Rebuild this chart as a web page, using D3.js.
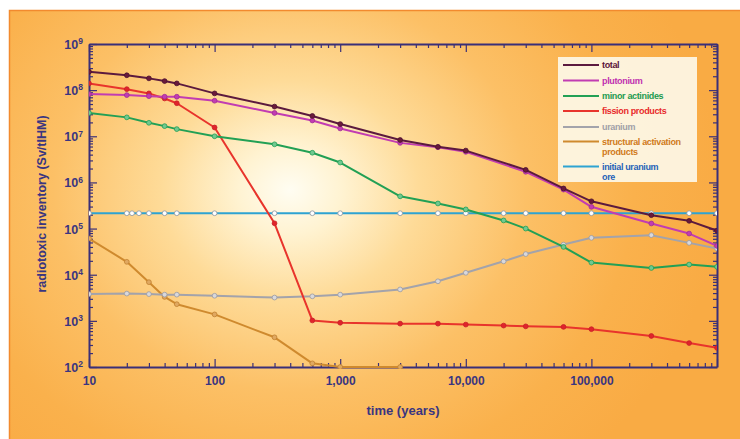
<!DOCTYPE html>
<html>
<head>
<meta charset="utf-8">
<script src="https://cdn.jsdelivr.net/npm/d3@7"></script>
<style>
  body { margin: 0; background: #fff; }
  svg { display: block; }
  .tick text { font-family: 'Liberation Sans', Arial, sans-serif; font-weight: bold; fill: #3a3580; }
</style>
</head>
<body>
<svg id="chart" width="740" height="439"></svg>
<script>
// values (Sv/tIHM)
const tMain = [10, 20, 30, 40, 50, 100, 300, 600, 1000, 3000, 6000, 10000, 30000, 60000, 100000, 300000, 600000, 1000000]
const tFine = [10, 20, 30, 40, 50, 100, 300, 600, 1000, 3000, 6000, 10000, 20000, 30000, 60000, 100000, 300000, 600000, 1000000]
const tStruct = [10, 20, 30, 40, 50, 100, 300, 600, 1000, 3000]
const tOre = [10, 20, 22, 25, 30, 40, 50, 100, 300, 600, 1000, 3000, 6000, 10000, 20000, 30000, 60000, 100000, 300000, 600000, 1000000]

const total = [2.5e8, 2.1e8, 1.8e8, 1.57e8, 1.4e8, 8.5e7, 4.4e7, 2.76e7, 1.84e7, 8.3e6, 5.9e6, 4.9e6, 1.87e6, 7.4e5, 3.9e5, 1.95e5, 1.47e5, 9.0e4]
const plutonium = [8.2e7, 7.8e7, 7.4e7, 7.2e7, 7.2e7, 5.9e7, 3.2e7, 2.2e7, 1.48e7, 7.2e6, 5.8e6, 4.6e6, 1.7e6, 7.0e5, 2.96e5, 1.29e5, 7.8e4, 4.2e4]
const minorActinides = [3.2e7, 2.57e7, 1.96e7, 1.66e7, 1.43e7, 1.0e7, 6.7e6, 4.4e6, 2.7e6, 5.0e5, 3.5e5, 2.6e5, 1.5e5, 1.0e5, 4.0e4, 1.83e4, 1.4e4, 1.66e4, 1.48e4]
const fission = [1.4e8, 1.05e8, 8.5e7, 6.6e7, 5.2e7, 1.55e7, 1.3e5, 1.02e3, 9.1e2, 8.7e2, 8.7e2, 8.3e2, 7.9e2, 7.6e2, 7.4e2, 6.6e2, 4.7e2, 3.3e2, 2.6e2]
const uranium = [3.8e3, 3.9e3, 3.8e3, 3.7e3, 3.7e3, 3.5e3, 3.2e3, 3.4e3, 3.7e3, 4.8e3, 7.2e3, 1.1e4, 1.95e4, 2.8e4, 4.5e4, 6.3e4, 7.2e4, 4.9e4, 3.7e4]
const structural = [6.1e4, 1.9e4, 6.9e3, 3.3e3, 2.3e3, 1.38e3, 4.4e2, 1.2e2, 95, 90]
const ore = tOre.map(() => 2.15e5)

const xTickLabels = ['10', '100', '1,000', '10,000', '100,000']
const yExponents = [2, 3, 4, 5, 6, 7, 8, 9]

const series = [
	{ key: 'ore', label: ['initial uranium', 'ore'], t: tOre, v: ore, color: '#2ea3d2', text: '#1f62b8', fill: '#fff', stroke: '#8a93a0' },
	{ key: 'structural', label: ['structural activation', 'products'], t: tStruct, v: structural, color: '#cf8a2e', text: '#d07a1a', fill: '#e0a860', stroke: '#c08030' },
	{ key: 'uranium', label: ['uranium'], t: tFine, v: uranium, color: '#a3a3ab', text: '#a0a0a8', fill: '#d8d8dc', stroke: '#9a9aa2' },
	{ key: 'fission', label: ['fission products'], t: tFine, v: fission, color: '#e8342c', text: '#e82a2a', fill: '#e0242a', stroke: '#c8202a' },
	{ key: 'minor', label: ['minor actinides'], t: tFine, v: minorActinides, color: '#22a055', text: '#1c9a50', fill: '#70c890', stroke: '#22a055' },
	{ key: 'plutonium', label: ['plutonium'], t: tMain, v: plutonium, color: '#c23cb2', text: '#c030b0', fill: '#c23cb2', stroke: '#a02c94' },
	{ key: 'total', label: ['total'], t: tMain, v: total, color: '#5c1a3e', text: '#5a1238', fill: '#6a1a3a', stroke: '#4a1030' },
]

const svg = d3.select('#chart')
const plotL = 89
const plotR = 717
const plotT = 44
const plotB = 367

const scaleX = d3.scaleLog().domain([10, 1e6]).range([plotL, plotR])
const scaleY = d3.scaleLog().domain([1e2, 1e9]).range([plotB, plotT]).clamp(true)

// background
const defs = svg.append('defs')
const grad = defs.append('radialGradient')
	.attr('id', 'bg')
	.attr('gradientUnits', 'userSpaceOnUse')
	.attr('cx', 290).attr('cy', 190).attr('r', 430)
	.attr('gradientTransform', 'translate(290,190) scale(1,0.85) translate(-290,-190)')
const stops = [[0, '#fffdf2'], [0.12, '#fff3d2'], [0.3, '#fedb98'], [0.55, '#fcc066'], [0.8, '#fab14c'], [1, '#f9ab44']]
stops.forEach(s => grad.append('stop').attr('offset', s[0]).attr('stop-color', s[1]))

svg.append('rect')
	.attr('x', 9).attr('y', 10).attr('width', 731).attr('height', 429)
	.attr('fill', 'url(#bg)')
svg.append('path')
	.attr('d', 'M9.5,439V10.5H740')
	.attr('fill', 'none')
	.attr('stroke', '#f28a2e')
	.attr('stroke-width', 1.5)

// ticks
function decadeTicks(lo, hi) {
	const out = []
	for (let e = lo; e <= hi; e++) {
		for (let m = 1; m < 10; m++) out.push(m * Math.pow(10, e))
	}
	return out
}
const xTicks = decadeTicks(1, 5).concat([1e6])
const yTicks = decadeTicks(2, 8).concat([1e9])
const isMajor = v => Math.abs(Math.log10(v) - Math.round(Math.log10(v))) < 1e-9

const axisColor = '#3a2f78'

// sign: direction the tick points into the plot
function drawAxis(axisFn, scale, ticks, transform, attr, sign) {
	const g = svg.append('g')
		.attr('transform', transform)
		.call(axisFn(scale).tickValues(ticks).tickFormat('').tickSizeOuter(0))
	g.select('.domain').attr('stroke', axisColor).attr('stroke-width', 2)
	g.selectAll('.tick line')
		.attr('stroke', axisColor)
		.attr('stroke-width', 1.2)
		.attr(attr, d => sign * (isMajor(d) ? 8 : 4))
	return g
}

drawAxis(d3.axisBottom, scaleX, xTicks, `translate(0,${plotB})`, 'y2', -1)
drawAxis(d3.axisTop, scaleX, xTicks, `translate(0,${plotT})`, 'y2', 1)
drawAxis(d3.axisLeft, scaleY, yTicks, `translate(${plotL},0)`, 'x2', 1)
drawAxis(d3.axisRight, scaleY, yTicks, `translate(${plotR},0)`, 'x2', -1)

// x tick labels
const xLab = svg.append('g')
	.attr('transform', `translate(0,${plotB})`)
	.call(d3.axisBottom(scaleX)
		.tickValues([10, 100, 1000, 10000, 100000])
		.tickFormat((d, i) => xTickLabels[i])
		.tickSize(0).tickPadding(9))
xLab.select('.domain').remove()
xLab.selectAll('text').attr('font-size', 12)

// y tick labels with superscripts
const yLab = svg.append('g')
	.attr('transform', `translate(${plotL},0)`)
	.call(d3.axisLeft(scaleY)
		.tickValues(yExponents.map(e => Math.pow(10, e)))
		.tickFormat('')
		.tickSize(0))
yLab.select('.domain').remove()
yLab.selectAll('.tick text').remove()
yLab.selectAll('.tick').each(function (d) {
	const e = Math.round(Math.log10(d))
	const t = d3.select(this).append('text')
		.attr('x', -6).attr('dy', '0.36em')
		.attr('text-anchor', 'end')
		.attr('font-size', 12.5)
	t.append('tspan').text('10')
	t.append('tspan').attr('font-size', 8.5).attr('dy', '-0.55em').text(e)
})

// axis titles
svg.append('text')
	.attr('transform', 'translate(46,204) rotate(-90)')
	.attr('text-anchor', 'middle')
	.attr('font-family', "'Liberation Sans', Arial, sans-serif")
	.attr('font-weight', 'bold')
	.attr('font-size', 12.5)
	.attr('fill', '#3a3580')
	.text('radiotoxic inventory (Sv/tIHM)')

svg.append('text')
	.attr('x', 403).attr('y', 415)
	.attr('text-anchor', 'middle')
	.attr('font-family', "'Liberation Sans', Arial, sans-serif")
	.attr('font-weight', 'bold')
	.attr('font-size', 13)
	.attr('fill', '#3a3580')
	.text('time (years)')

// lines
defs.append('clipPath').attr('id', 'plot')
	.append('rect').attr('x', plotL).attr('y', plotT - 2).attr('width', plotR - plotL).attr('height', plotB - plotT + 4)

const plot = svg.append('g').attr('clip-path', 'url(#plot)')
const line = d3.line().x(d => scaleX(d[0])).y(d => scaleY(d[1]))

series.forEach(s => {
	const pts = s.t.map((t, i) => [t, s.v[i]])
	const g = plot.append('g').attr('class', `series series--${s.key}`)
	g.append('path')
		.datum(pts)
		.attr('d', line)
		.attr('fill', 'none')
		.attr('stroke', s.color)
		.attr('stroke-width', 2)
		.attr('stroke-linejoin', 'round')
	g.selectAll('circle').data(pts).enter().append('circle')
		.attr('cx', d => scaleX(d[0]))
		.attr('cy', d => scaleY(d[1]))
		.attr('r', 2.4)
		.attr('fill', s.fill)
		.attr('stroke', s.stroke)
		.attr('stroke-width', 0.8)
})

// legend
const legend = svg.append('g').attr('transform', 'translate(558,57)')
legend.append('rect')
	.attr('width', 139).attr('height', 125)
	.attr('fill', '#fdf7e6')
	.attr('opacity', 0.93)

const legendRows = [8, 23.5, 39, 54, 70, 84.5, 109.5]
series.slice().reverse().forEach((s, i) => {
	const y = legendRows[i]
	legend.append('line')
		.attr('x1', 5).attr('x2', 41)
		.attr('y1', y).attr('y2', y)
		.attr('stroke', s.color).attr('stroke-width', 2)
	const txt = legend.append('text')
		.attr('x', 44).attr('y', y + 3.3)
		.attr('font-family', "'Liberation Sans', Arial, sans-serif")
		.attr('font-weight', 'bold')
		.attr('font-size', 9)
		.attr('letter-spacing', -0.35)
		.attr('fill', s.text)
	s.label.forEach((l, j) => {
		txt.append('tspan').attr('x', 44).attr('dy', j === 0 ? 0 : 10.5).text(l)
	})
})
</script>
</body>
</html>
